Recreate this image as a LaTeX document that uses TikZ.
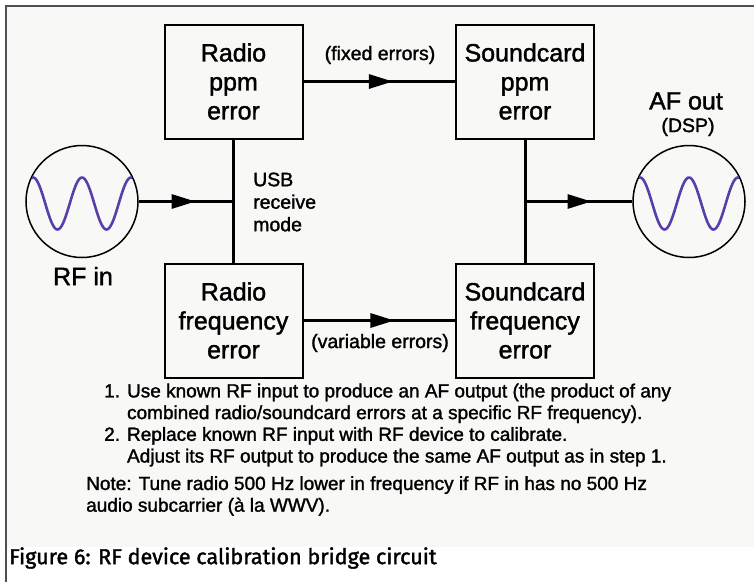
\documentclass[tikz,border=0pt]{standalone}
\usepackage{fontspec}
\setmainfont{Liberation Sans}[FakeBold=1.5]
\newfontfamily\capfont{Fira Sans}[FakeBold=1.6]
\usepackage{tikz}
\usetikzlibrary{calc}
\usetikzlibrary{arrows.meta}
\usetikzlibrary{positioning}
\definecolor{wavecol}{RGB}{88,62,170}
\definecolor{framecol}{RGB}{80,80,80}
\definecolor{paper}{RGB}{248,248,246}
\tikzstyle{errbox}=[draw,line width=2pt,minimum width=138pt,minimum height=114pt,
                inner sep=0,align=center,font=\fontsize{25}{29}\selectfont]
\tikzstyle{sig}=[draw,circle,line width=1.5pt,minimum size=112pt,inner sep=0]
\tikzstyle{wave}=[draw=wavecol,line width=2.6pt]
\tikzstyle{conn}=[draw,line width=3pt]
\tikzstyle{tip}=[conn,-{Triangle[length=24pt,width=14pt]}]
\tikzstyle{lbl}=[inner sep=0,font=\fontsize{19.5}{22.5}\selectfont]
\tikzstyle{big}=[inner sep=0,font=\fontsize{25}{29}\selectfont]
\tikzstyle{note}=[inner sep=0,anchor=north west,align=left,font=\fontsize{19}{21.7}\selectfont]

\begin{document}
\begin{tikzpicture}[x=1pt,y=-1pt]
\useasboundingbox (0,0) rectangle (754,582);
\fill[paper] (7,7) rectangle (754,547);
\draw[framecol,line width=2pt] (6,582) |- (754,6);
\node[errbox] (rppm) at (233.5,81.5) {Radio\\ppm\\error};
\node[errbox] (sppm) at (525,81.5) {Soundcard\\ppm\\error};
\node[errbox] (rfreq) at (233.5,320.5) {Radio\\frequency\\error};
\node[errbox] (sfreq) at (525,320.5) {Soundcard\\frequency\\error};
\node[sig] (rfin) at (82,201.5) {};
\node[sig] (afout) at (689,201.5) {};
\draw[wave,shift={(rfin.center)}] plot[domain=-50:50,samples=90,smooth] ({\x},{2-26*cos(7.347*\x)});
\draw[wave,shift={(afout.center)}] plot[domain=-50:50,samples=90,smooth] ({\x},{2-26*cos(7.347*\x)});
\coordinate (usbin) at (rfin.east -| rppm.south);
\coordinate (dspout) at (afout.west -| sppm.south);
\draw[conn] (rppm.south) -- (rfreq.north);
\draw[conn] (sppm.south) -- (sfreq.north);
\draw[conn] (rppm.east) -- (sppm.west);
\draw[tip] (rppm.east) -- ($(rppm.east)!0.59!(sppm.west)$);
\draw[conn] (rfreq.east) -- (sfreq.west);
\draw[tip] (rfreq.east) -- ($(rfreq.east)!0.6!(sfreq.west)$);
\draw[conn] (rfin.east) -- (usbin);
\draw[tip] (rfin.east) -- ($(rfin.east)!0.6!(usbin)$);
\draw[conn] (dspout) -- (afout.west);
\draw[tip] (dspout) -- ($(dspout)!0.62!(afout.west)$);
\node[lbl] (fixed) at (380,55) {(fixed errors)};
\node[lbl] (variable) at (380,343) {(variable errors)};
\node[lbl,anchor=west,align=left] (usb) at (253,202) {USB\\receive\\mode};
\node[big] (rflbl) at (83,276) {RF in};
\node[big] (aflbl) at (686,101) {AF out};
\node[lbl] (dsp) at (688,127) {(DSP)};
\node[note] (steps) at (104,382) {\begin{tabular}{@{}l@{ }l}
1. & Use known RF input to produce an AF output (the product of any\\
   & combined radio/soundcard errors at a specific RF frequency).\\
2. & Replace known RF input with RF device to calibrate.\\
   & Adjust its RF output to produce the same AF output as in step 1.
\end{tabular}};
\node[note] (tune) at (86,476) {Note: Tune radio 500 Hz lower in frequency if RF in has no 500 Hz\\
audio subcarrier (\`a la WWV).};
\node[inner sep=0,anchor=west,font=\capfont\fontsize{21.6}{25}\selectfont] (caption) at (9,558)
  {Figure 6: RF device calibration bridge circuit};
\end{tikzpicture}
\end{document}
